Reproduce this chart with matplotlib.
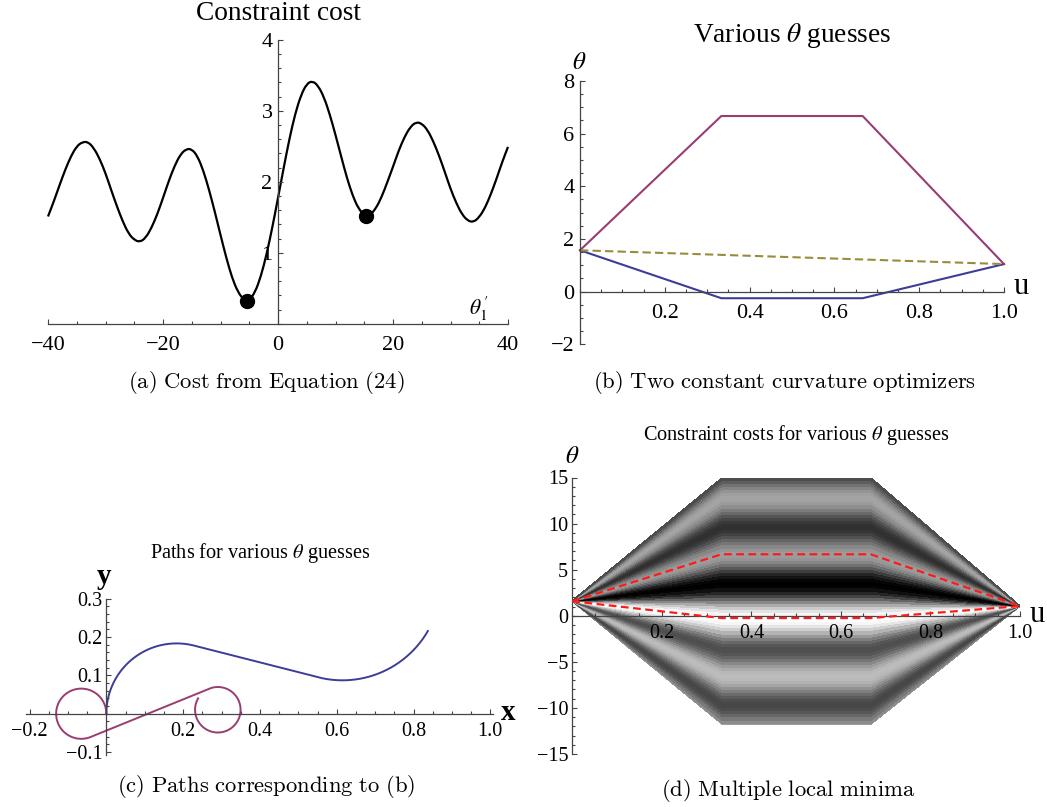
import numpy as np
import matplotlib
matplotlib.use("Agg")
import matplotlib.pyplot as plt
from matplotlib.path import Path
from matplotlib.patches import PathPatch
from matplotlib.ticker import MultipleLocator, FixedLocator, FuncFormatter

plt.rcParams['font.family'] = ['Liberation Serif', 'DejaVu Serif']
plt.rcParams['mathtext.fontset'] = 'stix'

# ---------------------------------------------------------------- data
# constraint cost as a function of the first-segment slope theta_1'
theta1_prime = np.arange(-40, 41)
cost = np.array([
    1.51, 1.72, 1.95, 2.17, 2.36, 2.50, 2.56, 2.56, 2.47, 2.32,
    2.12, 1.88, 1.65, 1.44, 1.27, 1.18, 1.15, 1.21, 1.35, 1.54,
    1.77, 2.01, 2.22, 2.38, 2.46, 2.46, 2.36, 2.16, 1.89, 1.58,
    1.25, 0.93, 0.65, 0.45, 0.34, 0.33, 0.44, 0.66, 0.97, 1.35,
    1.77, 2.20, 2.61, 2.96, 3.22, 3.38, 3.42, 3.35, 3.19, 2.95,
    2.66, 2.35, 2.05, 1.80, 1.62, 1.53, 1.53, 1.62, 1.78, 1.99,
    2.21, 2.44, 2.63, 2.77, 2.84, 2.82, 2.73, 2.57, 2.37, 2.14,
    1.90, 1.70, 1.54, 1.45, 1.43, 1.50, 1.63, 1.82, 2.04, 2.28,
    2.49])

# piecewise-linear heading profiles theta(u)
u_knots = [0.0, 1/3, 2/3, 1.0]
theta_low = [1.571, -0.25, -0.25, 1.047]     # optimizer 1
theta_high = [1.571, 6.67, 6.67, 1.047]      # optimizer 2
guess_u = [0.0, 1.0]
guess_theta = [1.571, 1.047]                 # initial straight guess
optimum_cost = [0.32, 1.52]                  # cost at the two optimizers

BLUE = '#3d3d99'
PURPLE = '#993d71'
OLIVE = '#998c3d'
AXIS = '#444444'

W, H = 1047, 807
fig = plt.figure(figsize=(W / 100, H / 100), dpi=100)

one_decimal = FuncFormatter(lambda v, pos: f'{v:.1f}'.replace('-', '\u2212'))
integer = FuncFormatter(lambda v, pos: f'{v:.0f}'.replace('-', '\u2212'))


def axes_px(xlim, ylim, px_x, px_y):
    left = px_x[0] / W
    width = (px_x[1] - px_x[0]) / W
    bottom = 1 - px_y[0] / H
    height = (px_y[0] - px_y[1]) / H
    ax = fig.add_axes([left, bottom, width, height])
    ax.set_xlim(xlim)
    ax.set_ylim(ylim)
    ax.patch.set_visible(False)
    return ax


def style_axes(ax, xb, yb, size, xpad, ypad):
    for s in ('top', 'right'):
        ax.spines[s].set_visible(False)
    ax.spines['left'].set_position(('data', 0))
    ax.spines['bottom'].set_position(('data', 0))
    ax.spines['left'].set_bounds(*yb)
    ax.spines['bottom'].set_bounds(*xb)
    for s in ('left', 'bottom'):
        ax.spines[s].set_color(AXIS)
        ax.spines[s].set_linewidth(0.9)
        ax.spines[s].set_zorder(3)
    ax.tick_params(which='both', direction='in', color=AXIS, width=0.8,
                   labelsize=size)
    ax.tick_params(which='major', length=3.5)
    ax.tick_params(which='minor', length=2.0)
    ax.tick_params(axis='x', pad=xpad)
    ax.tick_params(axis='y', pad=ypad)


def ftext(x, y, s, size, **kw):
    fig.text(x / W, 1 - y / H, s, fontsize=size, ha='center', va='center', **kw)


def caption(x, y, s):
    fig.text(x / W, 1 - y / H, r'$\mathrm{' + s.replace(' ', r'\ ') + '}$',
             fontsize=16.3, ha='center', va='center', math_fontfamily='cm')


def smooth_path(x, y):
    """Quadratic-Bezier rendering through the sample sequence."""
    pts = np.column_stack([x, y]).astype(float)
    mids = (pts[:-1] + pts[1:]) / 2
    verts = [pts[0], mids[0]]
    codes = [Path.MOVETO, Path.LINETO]
    for i in range(1, len(pts) - 1):
        verts += [pts[i], mids[i]]
        codes += [Path.CURVE3, Path.CURVE3]
    verts.append(pts[-1])
    codes.append(Path.LINETO)
    return Path(verts, codes)


# ---------------------------------------------------------------- (a)
axa = axes_px((-40, 40), (0, 4), (48, 508), (323.7, 39.7))
style_axes(axa, (-40, 40), (0, 4), 16, 9, 4)
axa.xaxis.set_major_locator(FixedLocator([-40, -20, 0, 20, 40]))
axa.xaxis.set_major_formatter(integer)
axa.xaxis.set_minor_locator(MultipleLocator(5))
axa.yaxis.set_major_locator(FixedLocator([1, 2, 3, 4]))
axa.yaxis.set_major_formatter(integer)
axa.yaxis.set_minor_locator(MultipleLocator(0.2))
axa.add_patch(PathPatch(smooth_path(theta1_prime, cost), fill=False,
                        edgecolor='black', lw=1.6, clip_on=False))
opt_slopes = [(theta_low[1] - theta_low[0]) / u_knots[1],
              (theta_high[1] - theta_high[0]) / u_knots[1]]
axa.plot(opt_slopes, optimum_cost, 'o', color='black', ms=10, clip_on=False)
ftext(278, 14, 'Constraint cost', 19.7)
ftext(479, 309, r'$\theta_1^{\,\prime}$', 15.5)
caption(266, 383, '(a) Cost from Equation (24)')

# ---------------------------------------------------------------- (b)
axb = axes_px((0, 1), (-2, 8), (580, 1004), (344.3, 81))
style_axes(axb, (0, 1), (-2, 8), 16, 9, 4)
axb.xaxis.set_major_locator(FixedLocator([0.2, 0.4, 0.6, 0.8, 1.0]))
axb.xaxis.set_major_formatter(one_decimal)
axb.xaxis.set_minor_locator(MultipleLocator(0.05))
axb.yaxis.set_major_locator(FixedLocator([-2, 0, 2, 4, 6, 8]))
axb.yaxis.set_major_formatter(integer)
axb.yaxis.set_minor_locator(MultipleLocator(0.5))
axb.plot(u_knots, theta_low, color=BLUE, lw=1.5, clip_on=False)
axb.plot(u_knots, theta_high, color=PURPLE, lw=1.5, clip_on=False)
axb.plot(guess_u, guess_theta, color=OLIVE, lw=1.5, dashes=(4, 2),
         clip_on=False)
ftext(792, 35, r'Various $\theta$ guesses', 19.7)
ftext(579, 63, r'$\theta$', 18)
ftext(1021, 287, 'u', 22)
caption(785, 383, '(b) Two constant curvature optimizers')

# ---------------------------------------------------------------- (c)
u = np.linspace(0, 1, 3001)
du = u[1] - u[0]


def trace(theta_knots):
    th = np.interp(u, u_knots, theta_knots)
    cx = np.cos(th)
    sy = np.sin(th)
    x = np.concatenate([[0], np.cumsum((cx[1:] + cx[:-1]) / 2 * du)])
    y = np.concatenate([[0], np.cumsum((sy[1:] + sy[:-1]) / 2 * du)])
    return x, y


axc = axes_px((-0.21, 1.006), (-0.107, 0.3), (25.7, 492.6), (754.8, 598.5))
style_axes(axc, (-0.21, 1.006), (-0.107, 0.3), 14.5, 6, 3)
axc.xaxis.set_major_locator(FixedLocator([-0.2, 0.2, 0.4, 0.6, 0.8, 1.0]))
axc.xaxis.set_major_formatter(one_decimal)
axc.xaxis.set_minor_locator(MultipleLocator(0.05))
axc.yaxis.set_major_locator(FixedLocator([-0.1, 0.1, 0.2, 0.3]))
axc.yaxis.set_major_formatter(one_decimal)
axc.yaxis.set_minor_locator(MultipleLocator(0.02))
xl, yl = trace(theta_low)
xh, yh = trace(theta_high)
axc.plot(xl, yl, color=BLUE, lw=1.4, clip_on=False)
axc.plot(xh, yh, color=PURPLE, lw=1.4, clip_on=False)
ftext(260, 553, r'Paths for various $\theta$ guesses', 14.6)
ftext(104, 577, 'y', 21, fontweight='bold')
ftext(508, 713, 'x', 21, fontweight='bold')
caption(266, 787, '(c) Paths corresponding to (b)')

# ---------------------------------------------------------------- (d)
axd = axes_px((0, 1), (-15, 15), (572.3, 1020), (754, 477.5))
style_axes(axd, (0, 1), (-15, 15), 14.5, 6, 3)
axd.xaxis.set_major_locator(FixedLocator([0.2, 0.4, 0.6, 0.8, 1.0]))
axd.xaxis.set_major_formatter(one_decimal)
axd.xaxis.set_minor_locator(MultipleLocator(0.05))
axd.yaxis.set_major_locator(FixedLocator([-15, -10, -5, 0, 5, 10, 15]))
axd.yaxis.set_major_formatter(integer)
axd.yaxis.set_minor_locator(MultipleLocator(1))

tp = theta1_prime.astype(float)
slope_edges = np.concatenate([[tp[0]], (tp[:-1] + tp[1:]) / 2, [tp[-1]]])
mid_edges = theta_low[0] + slope_edges * u_knots[1]
X = np.tile(u_knots, (len(slope_edges), 1))
Y = np.column_stack([np.full_like(mid_edges, theta_low[0]), mid_edges,
                     mid_edges, np.full_like(mid_edges, theta_low[-1])])
C = np.repeat(cost[:, None], 3, axis=1)
axd.pcolormesh(X, Y, C, cmap='gray_r', vmin=cost.min(), vmax=cost.max(),
               shading='flat', edgecolors='face', linewidth=0.3, zorder=1)
axd.plot(u_knots, theta_high, color='#ff1a1a', lw=1.6, dashes=(3.5, 2),
         zorder=4)
axd.plot(u_knots, theta_low, color='#ff1a1a', lw=1.6, dashes=(3.5, 2),
         zorder=4)
ftext(796, 435, r'Constraint costs for various $\theta$ guesses', 14.6)
ftext(572, 457, r'$\theta$', 18)
ftext(1037, 615, 'u', 22)
caption(788, 790, '(d) Multiple local minima')

fig.savefig('out.png', dpi=100)
